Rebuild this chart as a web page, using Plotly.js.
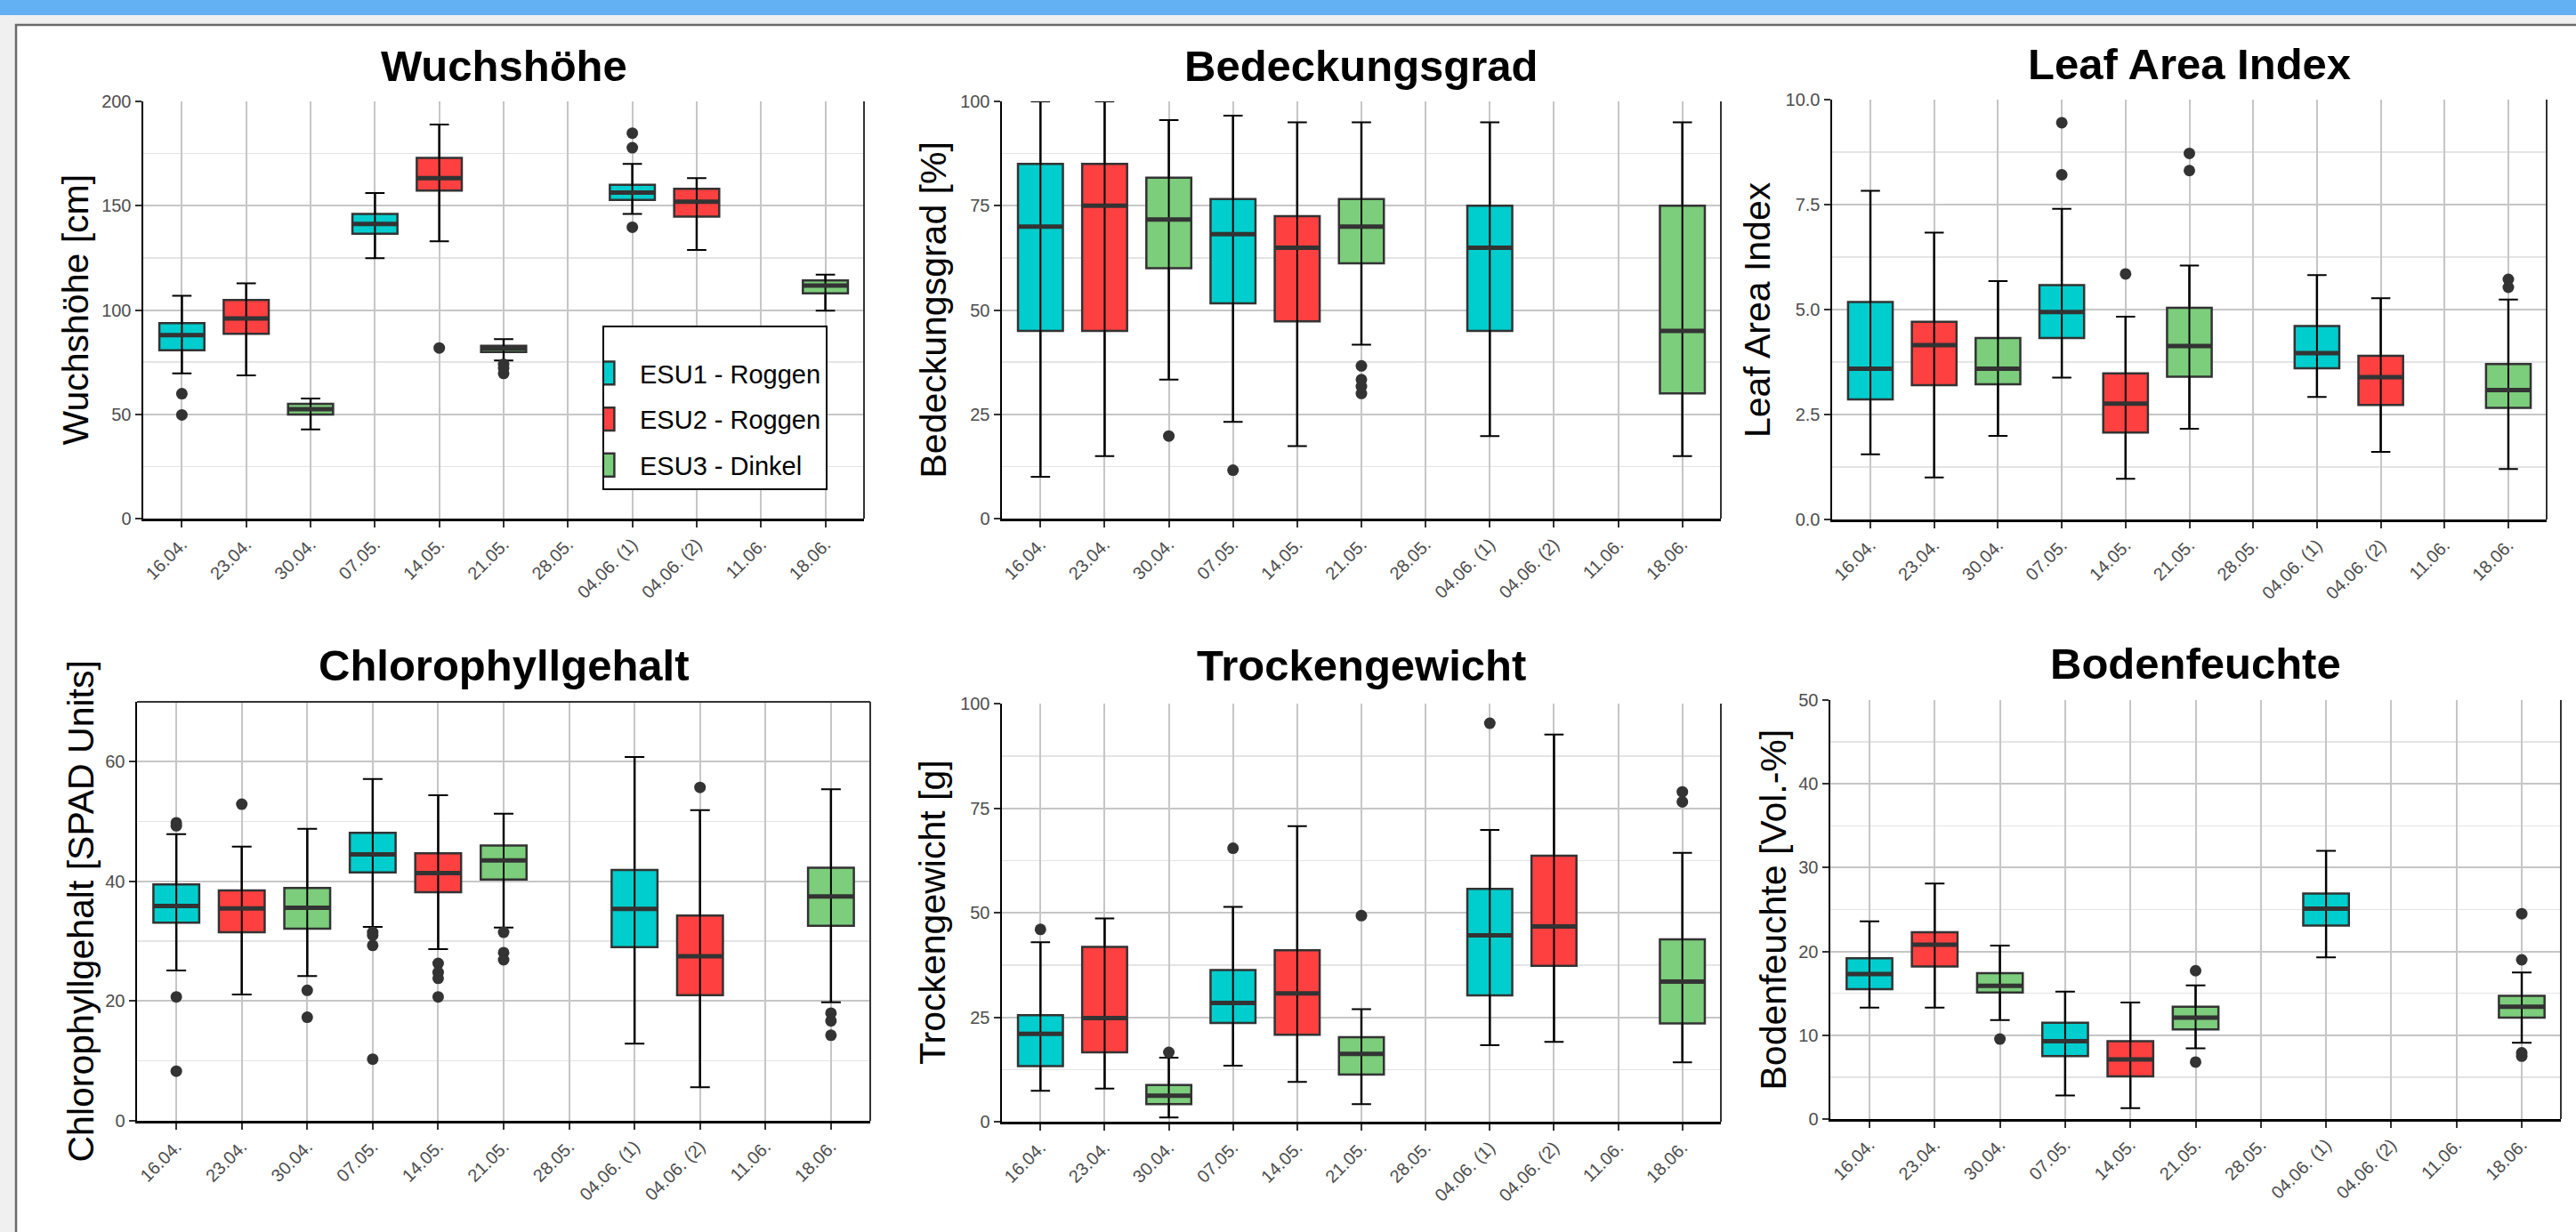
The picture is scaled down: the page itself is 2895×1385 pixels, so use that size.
<!DOCTYPE html>
<html>
<head>
<meta charset="utf-8">
<script src="https://cdn.plot.ly/plotly-3.0.1.min.js"></script>
<style>html,body{margin:0;padding:0;background:#f0f0f0;}#chart{width:2895px;height:1385px;}</style>
</head>
<body>
<div id="chart"></div>
<script>
// ---------------- DATA ----------------
const categories = ['16.04.','23.04.','30.04.','07.05.','14.05.','21.05.','28.05.','04.06. (1)','04.06. (2)','11.06.','18.06.'];
const esuNames = ['ESU1 - Roggen','ESU2 - Roggen','ESU3 - Dinkel'];
const esuOfCategory = [0,1,2,0,1,2,null,0,1,null,2];

// Wuchshöhe [cm]
const wh_lower  = [69.6, 68.7, 42.8, 124.8, 132.9, 75.8, null, 146.1, 128.8, null, 99.7];
const wh_q1     = [80.7, 88.6, 49.9, 136.6, 157.2, 79.8, null, 152.8, 144.8, null, 108.0];
const wh_median = [87.9, 96.0, 52.5, 141.3, 163.2, 81.6, null, 156.3, 151.9, null, 111.7];
const wh_q3     = [93.7, 104.8, 55.0, 146.1, 172.9, 82.8, null, 160.0, 158.1, null, 114.2];
const wh_upper  = [106.8, 112.8, 57.6, 156.1, 188.9, 86.0, null, 170.0, 163.2, null, 117.0];
const wh_outlierCat = [0, 0, 4, 5, 5, 5, 7, 7, 7];
const wh_outlierVal = [59.9, 49.7, 81.8, 74.0, 72.2, 69.6, 184.8, 177.8, 139.7];

// Bedeckungsgrad [%]
const bd_lower  = [10.0, 15.0, 33.3, 23.2, 17.4, 41.7, null, 19.8, null, null, 15.0];
const bd_q1     = [45.0, 45.0, 60.0, 51.6, 47.3, 61.2, null, 45.0, null, null, 30.0];
const bd_median = [70.0, 75.0, 71.7, 68.2, 64.9, 70.0, null, 64.9, null, null, 45.0];
const bd_q3     = [85.0, 85.0, 81.7, 76.6, 72.5, 76.6, null, 75.0, null, null, 75.0];
const bd_upper  = [100.0, 100.0, 95.5, 96.6, 95.0, 95.0, null, 95.0, null, null, 95.0];
const bd_outlierCat = [2, 3, 5, 5, 5, 5];
const bd_outlierVal = [19.8, 11.6, 36.6, 33.3, 31.7, 30.0];

// Leaf Area Index
const lai_lower  = [1.55, 1.00, 1.99, 3.38, 0.97, 2.16, null, 2.92, 1.61, null, 1.20];
const lai_q1     = [2.86, 3.20, 3.22, 4.32, 2.07, 3.40, null, 3.60, 2.73, null, 2.66];
const lai_median = [3.59, 4.15, 3.59, 4.94, 2.76, 4.13, null, 3.96, 3.39, null, 3.08];
const lai_q3     = [5.18, 4.71, 4.32, 5.58, 3.48, 5.04, null, 4.61, 3.90, null, 3.70];
const lai_upper  = [7.83, 6.83, 5.68, 7.40, 4.83, 6.05, null, 5.82, 5.27, null, 5.24];
const lai_outlierCat = [3, 3, 4, 5, 5, 10, 10];
const lai_outlierVal = [9.45, 8.21, 5.85, 8.72, 8.31, 5.72, 5.53];

// Chlorophyllgehalt [SPAD Units]
const chl_lower  = [25.1, 21.1, 24.2, 32.4, 28.7, 32.3, null, 12.9, 5.6, null, 19.8];
const chl_q1     = [33.1, 31.5, 32.1, 41.5, 38.2, 40.3, null, 29.0, 21.0, null, 32.6];
const chl_median = [35.9, 35.5, 35.6, 44.5, 41.4, 43.5, null, 35.4, 27.5, null, 37.5];
const chl_q3     = [39.5, 38.5, 38.9, 48.1, 44.7, 46.0, null, 41.9, 34.3, null, 42.3];
const chl_upper  = [47.9, 45.8, 48.8, 57.1, 54.4, 51.3, null, 60.8, 51.9, null, 55.4];
const chl_outlierCat = [0, 0, 0, 0, 1, 2, 2, 3, 3, 3, 3, 4, 4, 4, 4, 5, 5, 5, 8, 10, 10, 10];
const chl_outlierVal = [49.8, 49.3, 20.7, 8.3, 52.9, 21.8, 17.3, 31.5, 31.0, 29.3, 10.3, 26.3, 24.8, 23.8, 20.7, 31.5, 28.1, 26.9, 55.7, 18.0, 16.7, 14.3];

// Trockengewicht [g]
const tg_lower  = [7.4, 7.9, 1.0, 13.4, 9.5, 4.2, null, 18.3, 19.1, null, 14.2];
const tg_q1     = [13.3, 16.6, 4.2, 23.6, 20.8, 11.3, null, 30.2, 37.3, null, 23.5];
const tg_median = [21.0, 24.8, 6.2, 28.4, 30.7, 16.2, null, 44.6, 46.7, null, 33.5];
const tg_q3     = [25.5, 41.8, 8.8, 36.3, 41.0, 20.2, null, 55.7, 63.6, null, 43.6];
const tg_upper  = [42.9, 48.6, 15.3, 51.4, 70.7, 26.9, null, 69.8, 92.6, null, 64.3];
const tg_outlierCat = [0, 2, 3, 5, 7, 10, 10];
const tg_outlierVal = [46.0, 16.6, 65.4, 49.3, 95.3, 78.9, 76.5];

// Bodenfeuchte [Vol.-%]
const bf_lower  = [13.3, 13.3, 11.8, 2.8, 1.3, 8.45, null, 19.3, null, null, 9.1];
const bf_q1     = [15.5, 18.2, 15.1, 7.5, 5.1, 10.7, null, 23.1, null, null, 12.1];
const bf_median = [17.3, 20.8, 15.9, 9.3, 7.1, 12.1, null, 25.1, null, null, 13.4];
const bf_q3     = [19.2, 22.3, 17.4, 11.5, 9.3, 13.4, null, 26.9, null, null, 14.7];
const bf_upper  = [23.6, 28.1, 20.7, 15.2, 13.9, 15.95, null, 32.0, null, null, 17.5];
const bf_outlierCat = [2, 5, 5, 10, 10, 10, 10];
const bf_outlierVal = [9.55, 17.7, 6.8, 24.5, 19.0, 7.9, 7.5];

// ---------------- STYLE ----------------
const W = 2895, H = 1385;
const FONT = 'Liberation Sans, Arial, Helvetica, sans-serif';
const esuColors = ['#00CDCD', '#FF4040', '#7CCD7C'];
const BOX_W = 0.7;

const panels = [
  {data:[wh_lower, wh_q1, wh_median, wh_q3, wh_upper, wh_outlierCat, wh_outlierVal],
   title:'Wuchshöhe', ytitle:'Wuchshöhe [cm]', ytop:200, dtick:50, fmt:'d', px:[161,971], py:[114,583], ytx:84, tty:74},
  {data:[bd_lower, bd_q1, bd_median, bd_q3, bd_upper, bd_outlierCat, bd_outlierVal],
   title:'Bedeckungsgrad', ytitle:'Bedeckungsgrad [%]', ytop:100, dtick:25, fmt:'d', px:[1126,1934], py:[114,583], ytx:1048, tty:74},
  {data:[lai_lower, lai_q1, lai_median, lai_q3, lai_upper, lai_outlierCat, lai_outlierVal],
   title:'Leaf Area Index', ytitle:'Leaf Area Index', ytop:10, dtick:2.5, fmt:'.1f', px:[2059,2862], py:[112,584], ytx:1975, tty:72},
  {data:[chl_lower, chl_q1, chl_median, chl_q3, chl_upper, chl_outlierCat, chl_outlierVal],
   title:'Chlorophyllgehalt', ytitle:'Chlorophyllgehalt [SPAD Units]', ytop:70, dtick:20, fmt:'d', px:[154,978], py:[789,1260], ytx:90, tty:748, topBorder:true},
  {data:[tg_lower, tg_q1, tg_median, tg_q3, tg_upper, tg_outlierCat, tg_outlierVal],
   title:'Trockengewicht', ytitle:'Trockengewicht [g]', ytop:100, dtick:25, fmt:'d', px:[1126,1934], py:[791,1261], ytx:1048, tty:748},
  {data:[bf_lower, bf_q1, bf_median, bf_q3, bf_upper, bf_outlierCat, bf_outlierVal],
   title:'Bodenfeuchte', ytitle:'Bodenfeuchte [Vol.-%]', ytop:50, dtick:10, fmt:'d', px:[2057,2878], py:[787,1258], ytx:1992, tty:746}
];

const traces = [];
const layout = {
  width: W, height: H,
  margin: {l:0, r:0, t:0, b:0},
  paper_bgcolor: '#f0f0f0',
  plot_bgcolor: '#ffffff',
  boxmode: 'overlay',
  font: {family: FONT, color: '#000'},
  showlegend: true,
  legend: {
    x: 677/W, y: 1 - 366/H, xanchor: 'left', yanchor: 'top',
    bgcolor: '#ffffff', bordercolor: '#000000', borderwidth: 2,
    font: {family: FONT, size: 29, color: '#000'},
    tracegroupgap: 11,
    title: {text: ' ', font: {size: 20}}
  },
  shapes: [
    {type:'rect', xref:'paper', yref:'paper', x0:0, x1:1, y0:1-17/H, y1:1, fillcolor:'#63b0f3', line:{width:0}, layer:'below'},
    {type:'rect', xref:'paper', yref:'paper', x0:18/W, x1:1.02, y0:-0.02, y1:1-28/H, fillcolor:'#ffffff', line:{color:'#6a6a6a', width:2.5}, layer:'below'}
  ],
  annotations: []
};

const catIdx = categories.map((c, i) => i + 1);

panels.forEach((p, k) => {
  const n = k + 1;
  const xa = 'x' + (n === 1 ? '' : n), ya = 'y' + (n === 1 ? '' : n);
  const [lower, q1, med, q3, upper, outCat, outVal] = p.data;
  const spacingPx = (p.px[1] - p.px[0]) / 11.2;

  for (let e = 0; e < 3; e++) {
    const idx = [];
    categories.forEach((c, i) => { if (esuOfCategory[i] === e && med[i] !== null) idx.push(i); });
    if (!idx.length) continue;
    traces.push({
      type: 'box', orientation: 'v', xaxis: xa, yaxis: ya,
      name: esuNames[e], legendgroup: 'esu' + e, showlegend: n === 1,
      x: idx.map(i => catIdx[i]),
      q1: idx.map(i => q1[i]), median: idx.map(i => med[i]), q3: idx.map(i => q3[i]),
      lowerfence: idx.map(i => lower[i]), upperfence: idx.map(i => upper[i]),
      width: BOX_W, whiskerwidth: 0, boxpoints: false,
      fillcolor: esuColors[e], line: {color: '#333333', width: 2.5},
      hoverinfo: 'skip'
    });
  }
  const wIdx = [];
  categories.forEach((c, i) => { if (med[i] !== null) wIdx.push(i); });
  traces.push({
    type: 'scatter', mode: 'markers', xaxis: xa, yaxis: ya, showlegend: false, hoverinfo: 'skip',
    x: wIdx.map(i => catIdx[i]), y: wIdx.map(i => med[i]),
    marker: {size: 1, opacity: 0},
    error_y: {type: 'data', symmetric: false,
      array: wIdx.map(i => upper[i] - med[i]), arrayminus: wIdx.map(i => med[i] - lower[i]),
      color: '#000000', thickness: 2, width: spacingPx * 0.15},
    error_x: {type: 'constant', value: BOX_W / 2, color: '#333333', thickness: 5, width: 0}
  });
  traces.push({
    type: 'scatter', mode: 'markers', xaxis: xa, yaxis: ya, showlegend: false, hoverinfo: 'skip',
    x: outCat.map(i => catIdx[i]), y: outVal,
    marker: {size: 13, color: '#333333'}
  });

  const xKey = 'xaxis' + (n === 1 ? '' : n), yKey = 'yaxis' + (n === 1 ? '' : n);
  layout[xKey] = {
    domain: [p.px[0] / W, p.px[1] / W], anchor: ya,
    range: [0.4, 11.6], tickmode: 'array', tickvals: catIdx, ticktext: categories,
    tickangle: -45, ticks: 'outside', ticklen: 7, tickwidth: 2, tickcolor: '#333333',
    tickfont: {family: FONT, size: 20, color: '#4d4d4d'},
    showgrid: true, gridcolor: '#c6c6c6', gridwidth: 2,
    showline: true, linecolor: '#000000', linewidth: 2.5, zeroline: false, fixedrange: true
  };
  layout[yKey] = {
    domain: [1 - p.py[1] / H, 1 - p.py[0] / H], anchor: xa,
    range: [0, p.ytop], tickmode: 'linear', tick0: 0, dtick: p.dtick, tickformat: p.fmt,
    ticks: 'outside', ticklen: 7, tickwidth: 2, tickcolor: '#333333',
    tickfont: {family: FONT, size: 20, color: '#4d4d4d'},
    showgrid: true, gridcolor: '#c6c6c6', gridwidth: 2,
    minor: {dtick: p.dtick / 2, tick0: 0, showgrid: true, gridcolor: '#e4e4e4', gridwidth: 1.5, ticks: ''},
    showline: true, linecolor: '#000000', linewidth: 2.5, zeroline: false, fixedrange: true
  };
  layout.shapes.push({type:'line', xref: xa + ' domain', yref: ya + ' domain', x0:1, x1:1, y0:0, y1:1,
    line:{color:'#333333', width:2}});
  if (p.topBorder) layout.shapes.push({type:'line', xref: xa + ' domain', yref: ya + ' domain', x0:0, x1:1, y0:1, y1:1,
    line:{color:'#333333', width:2}});

  layout.annotations.push({
    text: '<b>' + p.title + '</b>', xref: 'paper', yref: 'paper',
    x: (p.px[0] + p.px[1]) / 2 / W, y: 1 - p.tty / H, xanchor: 'center', yanchor: 'middle',
    showarrow: false, font: {family: FONT, size: 49, color: '#000'}
  });
  layout.annotations.push({
    text: p.ytitle, xref: 'paper', yref: 'paper', textangle: -90,
    x: p.ytx / W, y: 1 - (p.py[0] + p.py[1]) / 2 / H, xanchor: 'center', yanchor: 'middle',
    showarrow: false, font: {family: FONT, size: 41, color: '#000'}
  });
});

Plotly.newPlot('chart', traces, layout, {staticPlot: true, displayModeBar: false}).then(gd => {
  // enlarge legend key glyphs to match the reference key size
  gd.querySelectorAll('.legend .legendpoints path').forEach(el => {
    el.setAttribute('transform', 'scale(1.9,2.15)');
    el.style.vectorEffect = 'non-scaling-stroke';
  });
});
</script>
</body>
</html>
